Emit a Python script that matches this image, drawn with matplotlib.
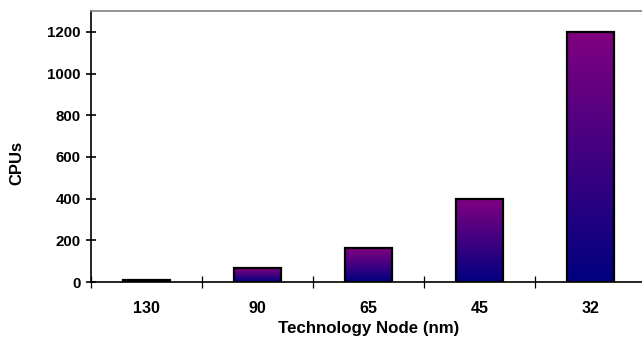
import numpy as np
import matplotlib
matplotlib.use("Agg")
import matplotlib.pyplot as plt
from matplotlib.colors import LinearSegmentedColormap

nodes = ["130", "90", "65", "45", "32"]
cpus = [8, 67, 163, 400, 1200]

plt.rcParams["font.family"] = ["Liberation Sans", "DejaVu Sans"]
plt.rcParams["font.weight"] = "bold"

fig = plt.figure(figsize=(6.42, 3.39), dpi=100)
# plot area runs a few pixels past the right edge of the canvas
ax = fig.add_axes([91 / 642, 1 - 282 / 339, 555 / 642, 271 / 339])

x = np.arange(len(nodes))
bars = ax.bar(x, cpus, width=0.42, color="none", edgecolor="black", linewidth=1.6, zorder=3)

# navy at the base fading to purple at the top of each bar
cmap = LinearSegmentedColormap.from_list("np", ["#000080", "#800080"])
grad = np.linspace(0, 1, 256).reshape(-1, 1)
for b in bars:
    x0, y0 = b.get_x(), b.get_y()
    im = ax.imshow(grad, cmap=cmap, origin="lower", aspect="auto",
                   extent=(x0, x0 + b.get_width(), y0, y0 + b.get_height()), zorder=2)
    im.set_clip_path(b)

ax.set_xlim(-0.5, 4.5)
ax.set_ylim(0, 1300)
ax.set_yticks(range(0, 1201, 200))
ax.set_xticks(x)
ax.set_xticklabels(nodes)
ax.set_xticks(np.arange(-0.5, 5, 1), minor=True)
ax.tick_params(axis="x", which="major", length=0, pad=13.5, labelsize=11.5)
ax.tick_params(axis="x", which="minor", direction="inout", length=9, width=0.9)
ax.tick_params(axis="y", direction="inout", length=7, width=1.2, pad=4, labelsize=10.8)

ax.spines["right"].set_visible(False)
ax.spines["top"].set_color("#808080")
ax.spines["top"].set_linewidth(1.2)
ax.spines["left"].set_linewidth(1.2)
ax.spines["bottom"].set_linewidth(1.2)

ax.set_xlabel("Technology Node (nm)", fontsize=12.2, fontweight="bold", labelpad=4)
ax.set_ylabel("CPUs", fontsize=12, fontweight="bold")
ax.yaxis.set_label_coords(-67 / 555, 0.44)

fig.savefig("out.png", dpi=100)
